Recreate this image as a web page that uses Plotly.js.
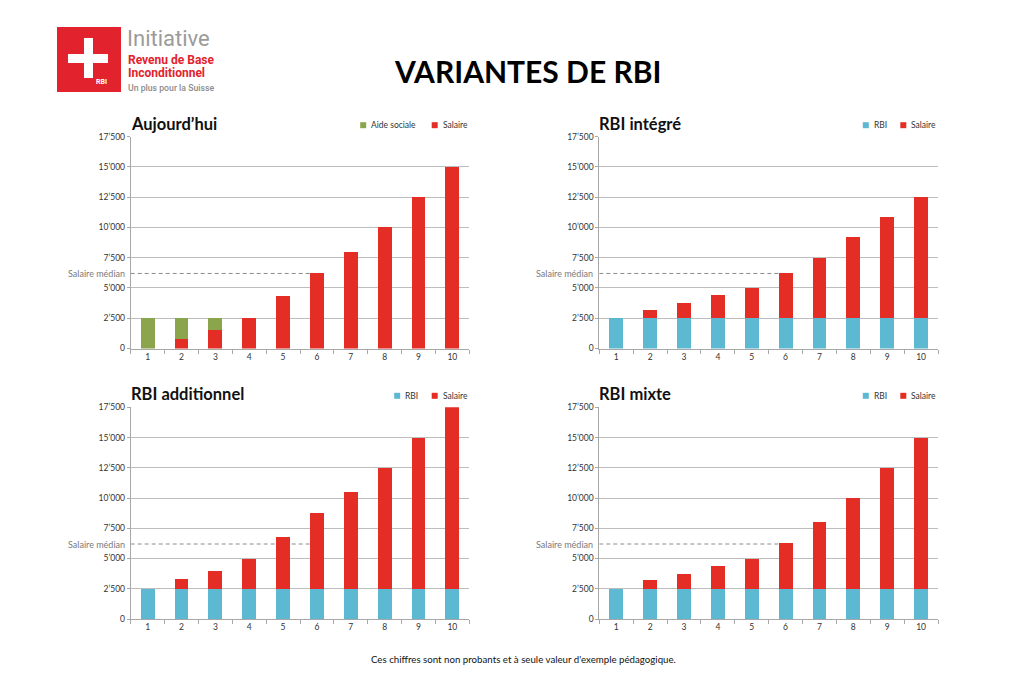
<!DOCTYPE html>
<html><head><meta charset="utf-8">
<script src="https://cdn.plot.ly/plotly-3.0.1.min.js"></script>
<style>html,body{margin:0;padding:0;background:#fff}#chart{width:1024px;height:683px}</style>
</head><body><div id="chart"></div>
<script>
// ---------- data ----------
const categories = ['1','2','3','4','5','6','7','8','9','10'];
const yTickVals = [0, 2500, 5000, 7500, 10000, 12500, 15000, 17500];
const yTickText = ['0', '2’500', '5’000', '7’500', '10’000', '12’500', '15’000', '17’500'];
const medianSalary = 6200;

const aujourdhuiSalaire = [0, 800, 1500, 2500, 4300, 6250, 8000, 10000, 12500, 15000];
const aujourdhuiAide    = [2500, 1700, 1000, 0, 0, 0, 0, 0, 0, 0];
const rbiBase           = [2500, 2500, 2500, 2500, 2500, 2500, 2500, 2500, 2500, 2500];
const integreSalaire    = [0, 700, 1250, 1900, 2500, 3750, 5000, 6700, 8400, 10000];
const additionnelSalaire= [0, 800, 1500, 2500, 4300, 6250, 8000, 10000, 12500, 15000];
const mixteSalaire      = [0, 700, 1250, 1900, 2500, 3750, 5500, 7500, 10000, 12500];

const panelTitles = ['Aujourd’hui', 'RBI intégré', 'RBI additionnel', 'RBI mixte'];
const legendLabels = [['Aide sociale', 'Salaire'], ['RBI', 'Salaire'], ['RBI', 'Salaire'], ['RBI', 'Salaire']];
const mainTitle = 'VARIANTES DE RBI';
const footNote = 'Ces chiffres sont non probants et à seule valeur d\'exemple pédagogique.';
const medianLabel = 'Salaire médian';

// ---------- styles ----------
const RED = '#e42d24', GREEN = '#8aa54b', BLUE = '#5db8d1';
const LOGO_RED = '#e2222c';
const W = 1024, H = 683;
const px = x => x / W;
const py = y => 1 - y / H;
const FONT = 'Lato, "Open Sans", sans-serif';

// panel geometry (pixels)
const panels = [
  {x0: 130.7, x1: 469.3, y0: 136.7, y1: 348.5},
  {x0: 599.3, x1: 938.0, y0: 136.7, y1: 348.5},
  {x0: 130.7, x1: 469.3, y0: 407.3, y1: 619.0},
  {x0: 599.3, x1: 938.0, y0: 407.3, y1: 619.0}
];

function bar(y, color, idx, name) {
  const s = idx === 1 ? '' : String(idx);
  return {type: 'bar', x: categories, y: y, name: name, xaxis: 'x' + s, yaxis: 'y' + s,
    marker: {color: color, line: {width: 0}}, showlegend: false, hoverinfo: 'skip'};
}

const data = [
  bar(aujourdhuiSalaire, RED, 1, 'Salaire'),
  bar(aujourdhuiAide, GREEN, 1, 'Aide sociale'),
  bar(rbiBase, BLUE, 2, 'RBI'),
  bar(integreSalaire, RED, 2, 'Salaire'),
  bar(rbiBase, BLUE, 3, 'RBI'),
  bar(additionnelSalaire, RED, 3, 'Salaire'),
  bar(rbiBase, BLUE, 4, 'RBI'),
  bar(mixteSalaire, RED, 4, 'Salaire')
];

const layout = {
  width: W, height: H, autosize: false,
  margin: {l: 0, r: 0, t: 0, b: 0},
  paper_bgcolor: '#fff', plot_bgcolor: '#fff',
  barmode: 'stack', bargap: 0.59,
  showlegend: false,
  font: {family: FONT, color: '#333'},
  shapes: [], annotations: []
};

panels.forEach((p, i) => {
  const s = i === 0 ? '' : String(i + 1);
  layout['xaxis' + s] = {
    domain: [px(p.x0), px(p.x1)], anchor: 'y' + s, type: 'category',
    range: [-0.5, 9.5], showgrid: false, zeroline: false,
    showline: true, linecolor: '#a8a8a8', linewidth: 1,
    ticks: 'outside', tickson: 'boundaries', ticklen: 4, tickcolor: '#a8a8a8',
    tickfont: {size: 8.5, color: '#333', family: FONT}, fixedrange: true
  };
  layout['yaxis' + s] = {
    domain: [py(p.y1), py(p.y0)], anchor: 'x' + s,
    range: [0, 17500], tickmode: 'array', tickvals: yTickVals, ticktext: yTickText,
    showgrid: true, gridcolor: '#bdbdbd', gridwidth: 1, zeroline: false,
    showline: true, linecolor: '#a8a8a8', linewidth: 1,
    ticks: 'outside', ticklen: 3, tickcolor: '#a8a8a8',
    tickfont: {size: 8.5, color: '#333', family: FONT}, fixedrange: true
  };
  // median dashed line
  layout.shapes.push({type: 'line', xref: 'x' + s, yref: 'y' + s, x0: -0.5, x1: 5,
    y0: medianSalary, y1: medianSalary, layer: 'between',
    line: {color: '#8c8c8c', width: 1, dash: '4px,3px'}});
  layout.annotations.push({xref: 'paper', yref: 'y' + s, x: px(p.x0 - 4), y: medianSalary,
    xanchor: 'right', yanchor: 'middle', text: medianLabel, showarrow: false,
    font: {size: 9, color: '#7a7a7a', family: FONT}});
  // panel title
  layout.annotations.push({xref: 'paper', yref: 'paper', x: px(p.x0 - 2), y: py(p.y0 - 13),
    xanchor: 'left', yanchor: 'middle', text: panelTitles[i], showarrow: false,
    font: {size: 16.5, color: '#111', family: FONT, weight: 700}});
  // legend
  const lc = p.y0 - 11.5;
  const first = i === 0 ? GREEN : BLUE;
  const sq1 = i === 0 ? p.x0 + 229.5 : p.x0 + 263.5;
  const sq2 = p.x0 + 301;
  [[sq1, first, legendLabels[i][0]], [sq2, RED, legendLabels[i][1]]].forEach(([sx, c, t]) => {
    layout.shapes.push({type: 'rect', xref: 'paper', yref: 'paper',
      x0: px(sx), x1: px(sx + 6), y0: py(lc + 3), y1: py(lc - 3),
      fillcolor: c, line: {width: 0}});
    layout.annotations.push({xref: 'paper', yref: 'paper', x: px(sx + 9), y: py(lc),
      xanchor: 'left', yanchor: 'middle', text: t, showarrow: false,
      font: {size: 8.5, color: '#333', family: FONT}});
  });
});

// main title and footnote
layout.annotations.push({xref: 'paper', yref: 'paper', x: px(527), y: py(71),
  xanchor: 'center', yanchor: 'middle', text: mainTitle, showarrow: false,
  font: {size: 30, color: '#000', family: FONT, weight: 700}});
layout.annotations.push({xref: 'paper', yref: 'paper', x: px(523), y: py(659),
  xanchor: 'center', yanchor: 'middle', text: footNote, showarrow: false,
  font: {size: 9.7, color: '#111', family: FONT}});

// logo
layout.shapes.push({type: 'rect', xref: 'paper', yref: 'paper',
  x0: px(57), x1: px(121), y0: py(92), y1: py(27), fillcolor: LOGO_RED, line: {width: 0}});
layout.shapes.push({type: 'rect', xref: 'paper', yref: 'paper',
  x0: px(68), x1: px(108), y0: py(63), y1: py(54), fillcolor: '#fff', line: {width: 0}});
layout.shapes.push({type: 'rect', xref: 'paper', yref: 'paper',
  x0: px(84), x1: px(93), y0: py(78), y1: py(38), fillcolor: '#fff', line: {width: 0}});
layout.annotations.push({xref: 'paper', yref: 'paper', x: px(101), y: py(82),
  xanchor: 'center', yanchor: 'middle', text: 'RBI', showarrow: false,
  font: {size: 7, color: '#fff', family: 'Roboto, sans-serif', weight: 700}});
layout.annotations.push({xref: 'paper', yref: 'paper', x: px(125), y: py(39),
  xanchor: 'left', yanchor: 'middle', text: 'Initiative', showarrow: false,
  font: {size: 22, color: '#9b9b9b', family: 'Roboto, sans-serif', weight: 400}});
layout.annotations.push({xref: 'paper', yref: 'paper', x: px(126), y: py(59.5),
  xanchor: 'left', yanchor: 'middle', text: 'Revenu de Base', showarrow: false,
  font: {size: 12, color: LOGO_RED, family: 'Roboto, sans-serif', weight: 700}});
layout.annotations.push({xref: 'paper', yref: 'paper', x: px(126), y: py(73),
  xanchor: 'left', yanchor: 'middle', text: 'Inconditionnel', showarrow: false,
  font: {size: 12, color: LOGO_RED, family: 'Roboto, sans-serif', weight: 700}});
layout.annotations.push({xref: 'paper', yref: 'paper', x: px(126), y: py(87.5),
  xanchor: 'left', yanchor: 'middle', text: 'Un plus pour la Suisse', showarrow: false,
  font: {size: 8.7, color: '#8c8c8c', family: 'Roboto, sans-serif', weight: 500}});

Plotly.newPlot('chart', data, layout, {staticPlot: true, displayModeBar: false});
</script></body></html>
